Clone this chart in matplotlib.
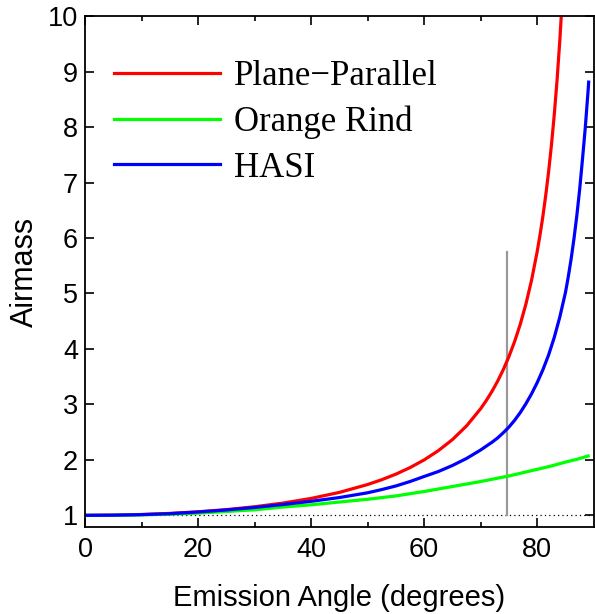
import matplotlib
matplotlib.use('Agg')
from matplotlib import pyplot as plt

# emission angle (degrees) and airmass
pp_angle = [0, 5, 10, 15, 20, 25, 30, 35, 40, 45, 50, 52.5, 55, 57.5, 60, 62.5, 65, 67.5, 70,
            71, 72, 73, 74, 75, 76, 77, 78, 79, 80, 80.5, 81, 81.5, 82, 82.5, 83, 83.5, 84, 84.5]
pp_airmass = [1.000, 1.004, 1.015, 1.035, 1.064, 1.103, 1.155, 1.221, 1.305, 1.414, 1.556, 1.643,
              1.743, 1.861, 2.000, 2.166, 2.366, 2.613, 2.924, 3.072, 3.236, 3.420, 3.628, 3.864,
              4.134, 4.445, 4.810, 5.241, 5.759, 6.059, 6.392, 6.765, 7.185, 7.661, 8.206, 8.834,
              9.567, 10.43]

hasi_angle = [0, 5, 10, 15, 20, 25, 30, 35, 40, 45, 50, 52.5, 55, 57.5, 60, 62.5, 65, 67.5, 70,
              71, 72, 73, 74, 75, 76, 77, 78, 79, 80, 81, 82, 83, 84, 85, 85.5, 86, 86.5, 87,
              87.5, 88, 88.5, 89, 89.1]
hasi_airmass = [1.000, 1.003, 1.013, 1.03, 1.06, 1.097, 1.142, 1.195, 1.253, 1.321, 1.407, 1.465,
                1.53, 1.61, 1.701, 1.790, 1.899, 2.026, 2.179, 2.249, 2.318, 2.396, 2.490, 2.592,
                2.714, 2.853, 3.013, 3.192, 3.394, 3.624, 3.888, 4.203, 4.577, 5.020, 5.305,
                5.624, 5.988, 6.398, 6.868, 7.413, 7.987, 8.658, 8.811]

rind_angle = [0, 5, 10, 15, 20, 25, 30, 35, 40, 45, 50, 55, 60, 65, 70, 72.5, 75, 77.5, 80, 82.5,
              85, 87, 89]
rind_airmass = [1.00, 1.00, 1.01, 1.02, 1.04, 1.07, 1.10, 1.15, 1.19, 1.24, 1.29, 1.35, 1.43, 1.52,
                1.61, 1.66, 1.71, 1.77, 1.83, 1.89, 1.96, 2.01, 2.07]

marker_angle = 74.6
marker_top = 5.74

fig = plt.figure(figsize=(5.95, 6.14), dpi=100)
ax = fig.add_axes([0.1429, 0.1417, 0.855, 0.832])

ax.plot([0, 90], [1, 1], color='black', lw=0.9, ls=(0, (1, 2.5)))
ax.plot([marker_angle, marker_angle], [1, marker_top], color='#999999', lw=1.6)

ax.plot(pp_angle, pp_airmass, color='#ff0000', lw=2.3, label='Plane\u2212Parallel')
ax.plot(rind_angle, rind_airmass, color='#00ff00', lw=2.3, label='Orange Rind')
ax.plot(hasi_angle, hasi_airmass, color='#0000ff', lw=2.3, label='HASI')

ax.set_xlim(0, 90)
ax.set_ylim(0.79, 10)
ax.set_xticks([0, 20, 40, 60, 80])
ax.set_xticks([10, 30, 50, 70], minor=True)
ax.set_yticks(range(1, 11))

sans = ['Liberation Sans', 'DejaVu Sans']
ax.tick_params(which='both', direction='in', top=True, right=True, width=1.2, colors='black')
ax.tick_params(which='major', length=6.5)
ax.tick_params(which='minor', length=3.5)
ax.tick_params(axis='x', pad=7)
ax.tick_params(axis='y', pad=5)
for lab in ax.get_xticklabels() + ax.get_yticklabels():
    lab.set_fontfamily(sans)
    lab.set_fontsize(19.5)
for sp in ax.spines.values():
    sp.set_linewidth(1.3)

ax.set_xlabel('Emission Angle (degrees)', fontsize=21, family=sans, labelpad=15)
ax.set_ylabel('Airmass', fontsize=22, family=sans, labelpad=6)

leg = ax.legend(loc='upper left', bbox_to_anchor=(0.057, 0.914), frameon=False,
                prop={'family': 'Liberation Serif', 'size': 25},
                handlelength=3.05, handletextpad=0.4, labelspacing=0.36, borderpad=0,
                borderaxespad=0)

fig.savefig('out.png', dpi=100)
